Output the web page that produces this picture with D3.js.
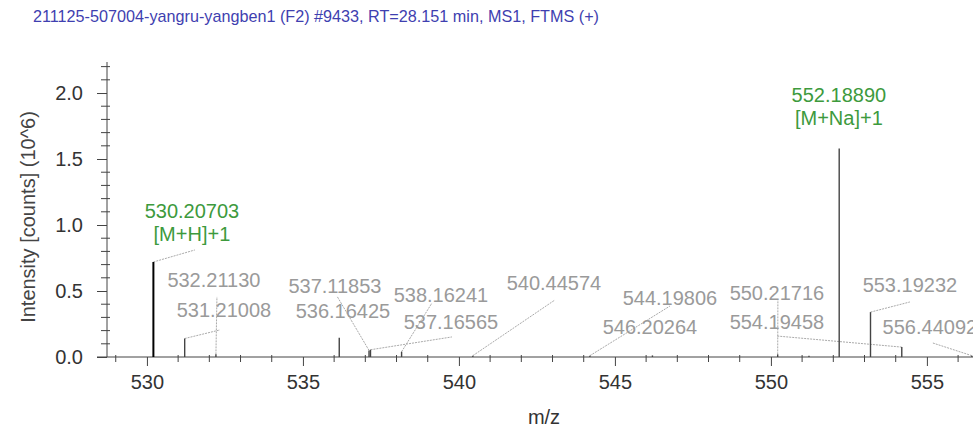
<!DOCTYPE html>
<html>
<head>
<meta charset="utf-8">
<script src="https://cdn.jsdelivr.net/npm/d3@7"></script>
<style>
  html, body { margin: 0; padding: 0; background: #fff; }
  svg { display: block; font-family: "Liberation Sans", Arial, sans-serif; }
</style>
</head>
<body>
<svg id="chart" width="973" height="431"></svg>
<script>
// ---------- data ----------
const titleText = "211125-507004-yangru-yangben1 (F2) #9433, RT=28.151 min, MS1, FTMS (+)";
const xTitle = "m/z";
const yTitle = "Intensity [counts] (10^6)";

const peakMz = [530.20703, 531.21008, 532.21130, 536.16425, 537.11853, 537.16565, 538.16241,
                540.44574, 544.19806, 546.20264, 550.21716, 551.22, 552.18890, 553.19232,
                554.19458, 556.44092];
const peakIntensity = [0.72, 0.14, 0.02, 0.145, 0.05, 0.055, 0.04,
                       0.01, 0.01, 0.012, 0.02, 0.01, 1.58, 0.34,
                       0.075, 0.01];
// annotation text per peak ("" = unlabeled), adduct line (green labels)
const peakLabel = ["530.20703", "531.21008", "532.21130", "536.16425", "537.11853", "537.16565", "538.16241",
                   "540.44574", "544.19806", "546.20264", "550.21716", "", "552.18890", "553.19232",
                   "554.19458", "556.44092"];
const peakAdduct = ["[M+H]+1", "", "", "", "", "", "",
                    "", "", "", "", "", "[M+Na]+1", "",
                    "", ""];

const xMajorTicks = [530, 535, 540, 545, 550, 555];
const yMajorTicks = [0.0, 0.5, 1.0, 1.5, 2.0];

// label placement in data units: [label centre m/z, label centre intensity, leader end m/z, leader end intensity]
const labelPlacement = [
  [531.442, 1.106, 531.538, 0.811],
  [532.468, 0.356, 532.340, 0.205],
  [532.147, 0.583, 532.244, 0.455],
  [536.282, 0.348, null, null],
  [536.026, 0.538, 536.090, 0.462],
  [539.744, 0.265, 539.776, 0.152],
  [539.423, 0.470, 539.135, 0.409],
  [543.045, 0.561, 543.077, 0.432],
  [546.763, 0.447, 546.763, 0.386],
  [546.122, 0.227, null, null],
  [550.192, 0.485, 550.224, 0.432],
  null,
  [552.179, 1.985, null, null],
  [554.455, 0.545, 554.455, 0.417],
  [550.192, 0.265, 550.192, 0.159],
  [555.096, 0.227, 555.192, 0.106]
];

// ---------- layout ----------
const svg = d3.select("#chart");
const x = d3.scaleLinear().domain([528.72, 557]).range([107, 989.3]);
const y = d3.scaleLinear().domain([0, 2.235]).range([357, 62]);
const axisColor = "#444";
const fs = 20;

// title
svg.append("text").attr("x", 33).attr("y", 22)
  .attr("font-size", 16.2).attr("fill", "#3f3fb0").text(titleText);

// ---------- axes ----------
const gx = svg.append("g").attr("transform", `translate(0,${y(0)})`);
gx.append("line").attr("x1", 97).attr("x2", 973).attr("y1", 0).attr("y2", 0)
  .attr("stroke", axisColor).attr("stroke-width", 1);
const xAxis = d3.axisBottom(x).tickValues(xMajorTicks).tickSize(9).tickPadding(9)
  .tickFormat(d3.format("d"));
const gxa = svg.append("g").attr("transform", `translate(0,${y(0)})`).call(xAxis);
gxa.select(".domain").remove();
gxa.selectAll(".tick line").attr("stroke", axisColor);
gxa.selectAll(".tick text").attr("font-size", fs).attr("fill", "#333")
  .attr("font-family", "Liberation Sans, Arial, sans-serif");
const xMinor = d3.range(529, 557, 1).filter(v => v % 5 !== 0);
gx.selectAll("line.minor").data(xMinor).join("line").attr("class", "minor")
  .attr("x1", d => x(d)).attr("x2", d => x(d)).attr("y1", -2).attr("y2", 5)
  .attr("stroke", axisColor);

const gy = svg.append("g").attr("transform", `translate(${x.range()[0]},0)`);
gy.append("line").attr("x1", 0).attr("x2", 0).attr("y1", y(0)).attr("y2", y(2.235))
  .attr("stroke", axisColor);
const yAxis = d3.axisLeft(y).tickValues(yMajorTicks).tickSize(10).tickPadding(14)
  .tickFormat(d3.format(".1f"));
const gya = svg.append("g").attr("transform", `translate(${x.range()[0]},0)`).call(yAxis);
gya.select(".domain").remove();
gya.selectAll(".tick line").attr("stroke", axisColor);
gya.selectAll(".tick text").attr("font-size", fs).attr("fill", "#333")
  .attr("font-family", "Liberation Sans, Arial, sans-serif");
const yMinor = d3.range(1, 23).map(i => i / 10).filter(v => Math.abs(v * 2 - Math.round(v * 2)) > 1e-6);
gy.selectAll("line.minor").data(yMinor).join("line").attr("class", "minor")
  .attr("x1", -6).attr("x2", 3).attr("y1", d => y(d)).attr("y2", d => y(d))
  .attr("stroke", axisColor);

// axis titles
svg.append("text").attr("x", 544).attr("y", 424)
  .attr("text-anchor", "middle").attr("font-size", fs).attr("fill", "#333").text(xTitle);
svg.append("text").attr("transform", `translate(35,217) rotate(-90)`)
  .attr("text-anchor", "middle").attr("font-size", fs).attr("fill", "#444").text(yTitle);

// ---------- peaks ----------
const peaks = peakMz.map((m, i) => ({ m, v: peakIntensity[i], label: peakLabel[i], adduct: peakAdduct[i], pos: labelPlacement[i] }));

svg.append("g").selectAll("line").data(peaks.filter(p => p.pos && p.pos[2] !== null)).join("line")
  .attr("x1", p => x(p.m)).attr("y1", p => y(p.v))
  .attr("x2", p => x(p.pos[2])).attr("y2", p => y(p.pos[3]))
  .attr("stroke", "#aaa").attr("stroke-width", 1).attr("stroke-dasharray", "2,1");

svg.append("g").selectAll("line").data(peaks).join("line")
  .attr("x1", p => x(p.m)).attr("x2", p => x(p.m))
  .attr("y1", y(0)).attr("y2", p => y(p.v))
  .attr("stroke", (p, i) => i === 0 ? "#000" : "#444")
  .attr("stroke-width", (p, i) => i === 0 ? 2 : 1.4);

const lg = svg.append("g");
peaks.filter(p => p.pos && p.label).forEach(p => {
  const green = p.adduct !== "";
  lg.append("text").attr("x", x(p.pos[0])).attr("y", y(p.pos[1]))
    .attr("text-anchor", "middle").attr("dominant-baseline", "central")
    .attr("font-size", fs).attr("fill", green ? "#3d9a3d" : "#9a9a9a").text(p.label);
  if (green) {
    lg.append("text").attr("x", x(p.pos[0])).attr("y", y(p.pos[1]) + 23)
      .attr("text-anchor", "middle").attr("dominant-baseline", "central")
      .attr("font-size", fs).attr("fill", "#3d9a3d").text(p.adduct);
  }
});
</script>
</body>
</html>
